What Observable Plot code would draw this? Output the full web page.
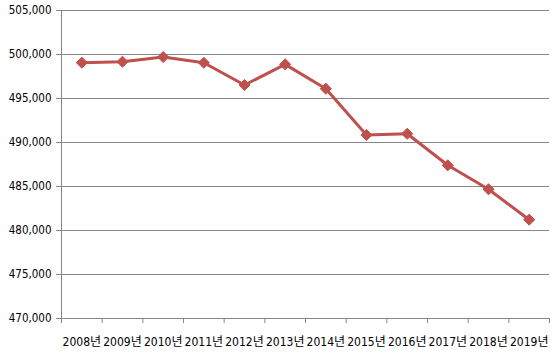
<!DOCTYPE html>
<html>
<head>
<meta charset="utf-8">
<script src="https://cdn.jsdelivr.net/npm/d3@7"></script>
<script src="https://cdn.jsdelivr.net/npm/@observablehq/plot@0.6"></script>
<style>
  html, body { margin: 0; padding: 0; background: #fff; }
  #chart { width: 554px; height: 356px; }
</style>
</head>
<body>
<div id="chart"></div>
<script>
const years = ["2008년","2009년","2010년","2011년","2012년","2013년","2014년","2015년","2016년","2017년","2018년","2019년"];
const values = [499070, 499180, 499710, 499060, 496530, 498880, 496110, 490850, 490990, 487410, 484680, 481230];
const yTicks = [470000, 475000, 480000, 485000, 490000, 495000, 500000, 505000];

const data = years.map((y, i) => ({i, year: y, value: values[i]}));
const idx = years.map((_, i) => i);
const bounds = d3.range(-0.5, years.length, 1);

const gray = "#868686";
const lineColor = "#C0504D";

const chart = Plot.plot({
  width: 554,
  height: 356,
  marginLeft: 61,
  marginRight: 5,
  marginTop: 10,
  marginBottom: 38,
  style: {fontFamily: "'DejaVu Sans Condensed', 'DejaVu Sans', 'Noto Sans CJK KR', sans-serif", fontSize: "11.5px", color: "#000", background: "#fff"},
  x: {type: "linear", domain: [-0.5, years.length - 0.5], axis: null},
  y: {domain: [470000, 505000], axis: null},
  marks: [
    Plot.gridY(yTicks, {stroke: gray, strokeOpacity: 1, strokeWidth: 1}),
    Plot.ruleX([-0.5], {stroke: gray, strokeWidth: 1}),
    Plot.axisY(yTicks, {tickFormat: d3.format(","), tickSize: 5, tickPadding: 5, stroke: gray, fill: "#000", label: null}),
    Plot.axisX(bounds, {tickFormat: () => "", tickSize: 5, stroke: gray, label: null}),
    Plot.axisX(idx, {tickFormat: i => years[i], tickSize: 0, tickPadding: 19, fill: "#000", fontSize: 12, label: null}),
    Plot.line(data, {x: "i", y: "value", stroke: lineColor, strokeWidth: 3}),
    Plot.dot(data, {x: "i", y: "value", symbol: "diamond2", r: 5, fill: lineColor, stroke: lineColor, strokeWidth: 1})
  ]
});
document.getElementById("chart").appendChild(chart);
</script>
</body>
</html>
